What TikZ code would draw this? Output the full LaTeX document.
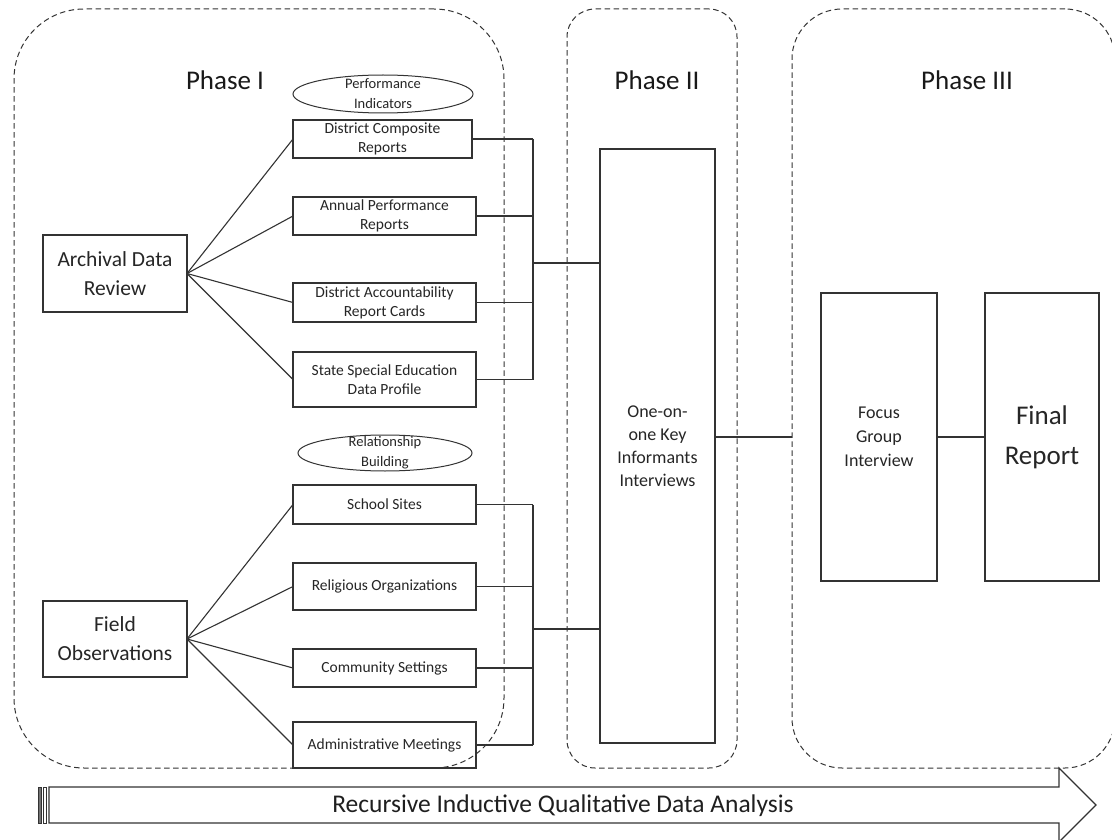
\documentclass[tikz,border=0pt]{standalone}
\usepackage{fontspec}
\setmainfont{Carlito}
\usetikzlibrary{shapes.geometric}
\begin{document}
\begin{tikzpicture}[x=1pt,y=-1pt,
  ln/.style={draw=black!80, line width=1.2pt},
  phasebox/.style={draw=black!80, line width=1pt, dash pattern=on 5.5pt off 3.5pt, outer sep=0pt, inner sep=0pt},
  itembox/.style={ln, outer sep=0pt, inner sep=1pt, align=center, text=black!85, font=\fontsize{15.5}{19}\selectfont, minimum width=183pt},
  srcbox/.style={ln, outer sep=0pt, inner sep=1pt, align=center, text=black!85, font=\fontsize{21.5}{29}\selectfont, minimum width=144pt},
  ovalbox/.style={ellipse, draw=black!80, line width=1pt, outer sep=0pt, inner sep=0pt},
  ovaltext/.style={align=center, text=black!85, font=\fontsize{14.5}{20}\selectfont},
  tallbox/.style={ln, outer sep=0pt, inner sep=1pt, align=center, text=black!85},
  phaselabel/.style={font=\fontsize{27}{30}\selectfont, text=black!90}
]
\clip (0,0) rectangle (1112,840);
\fill[white] (0,0) rectangle (1112,840);

% phase containers
\node[phasebox, rounded corners=70pt, minimum width=490pt, minimum height=759pt] (phase1) at (259,388.5) {};
\node[phasebox, rounded corners=28pt, minimum width=170pt, minimum height=759pt] (phase2) at (652,388.5) {};
\node[phasebox, rounded corners=50pt, minimum width=323pt, minimum height=759pt] (phase3) at (953.5,388.5) {};

\node[phaselabel] (lab1) at (225,80) {Phase I};
\node[phaselabel] (lab2) at (657,80) {Phase II};
\node[phaselabel] (lab3) at (967,80) {Phase III};

% Phase I, archival branch
\node[ovalbox, minimum width=180pt, minimum height=38pt,
  label={[ovaltext]center:Performance\\Indicators}] (pi) at (383,94) {};
\node[itembox, minimum width=179pt, minimum height=38pt] (dcr) at (382.5,139) {District Composite\\Reports};
\node[itembox, minimum height=38pt] (apr) at (384.5,216) {Annual Performance\\Reports};
\node[itembox, minimum height=39pt] (darc) at (384.5,302.5) {District Accountability\\Report Cards};
\node[itembox, minimum height=55pt] (ssedp) at (384.5,379.5) {State Special Education\\Data Profile};
\node[srcbox, minimum height=77pt] (adr) at (115,273.5) {Archival Data\\Review};

% Phase I, field branch
\node[ovalbox, minimum width=174pt, minimum height=36pt,
  label={[ovaltext]center:Relationship\\Building}] (rb) at (385,453) {};
\node[itembox, minimum height=39pt] (ss) at (384.5,504.5) {School Sites};
\node[itembox, minimum height=47pt] (ro) at (384.5,586.5) {Religious Organizations};
\node[itembox, minimum height=38pt] (cs) at (384.5,668) {Community Settings};
\node[itembox, minimum height=46pt] (am) at (384.5,745) {Administrative Meetings};
\node[srcbox, minimum height=76pt] (fo) at (115,639) {Field\\Observations};

% Phase II and III boxes
\node[tallbox, minimum width=115pt, minimum height=594pt, font=\fontsize{18}{23}\selectfont] (ook) at (657.5,446) {One-on-\\one Key\\Informants\\Interviews};
\node[tallbox, minimum width=116pt, minimum height=288pt, font=\fontsize{18}{24}\selectfont] (fgi) at (879,437) {Focus\\Group\\Interview};
\node[tallbox, minimum width=114pt, minimum height=288pt, font=\fontsize{27}{40}\selectfont] (fr) at (1042,437) {Final\\Report};

% fans
\foreach \t in {dcr,apr,darc,ssedp} \draw[ln, line width=1.1pt] (adr.east) -- (\t.west);
\foreach \t in {ss,ro,cs,am} \draw[ln, line width=1.1pt] (fo.east) -- (\t.west);

% brackets
\coordinate (j1) at (533,263);
\coordinate (j2) at (533,629);
\foreach \t in {dcr,apr,darc,ssedp} \draw[ln] (\t.east) -- (\t.east -| j1);
\draw[ln] (dcr.east -| j1) -- (ssedp.east -| j1);
\draw[ln] (j1) -- (j1 -| ook.west);
\foreach \t in {ss,ro,cs,am} \draw[ln] (\t.east) -- (\t.east -| j2);
\draw[ln] (ss.east -| j2) -- (am.east -| j2);
\draw[ln] (j2) -- (j2 -| ook.west);

% phase II to III
\draw[ln] (ook.east |- fgi.west) -- (phase3.west |- fgi.west);
\draw[ln] (fgi.east) -- (fr.west);

% bottom arrow
\draw[ln, line join=miter] (49,787) -- (1059,787) -- (1059,768) -- (1096,805) -- (1059,842) -- (1059,823) -- (49,823) -- cycle;
\draw[draw=black!80, line width=0.9pt, fill=black!55] (38,787) rectangle (41,823);
\draw[draw=black!80, line width=0.9pt] (43.5,787) rectangle (46.5,823);
\node[font=\fontsize{25.5}{28}\selectfont, text=black!88] (analysis) at (563,806) {Recursive Inductive Qualitative Data Analysis};
\end{tikzpicture}
\end{document}
